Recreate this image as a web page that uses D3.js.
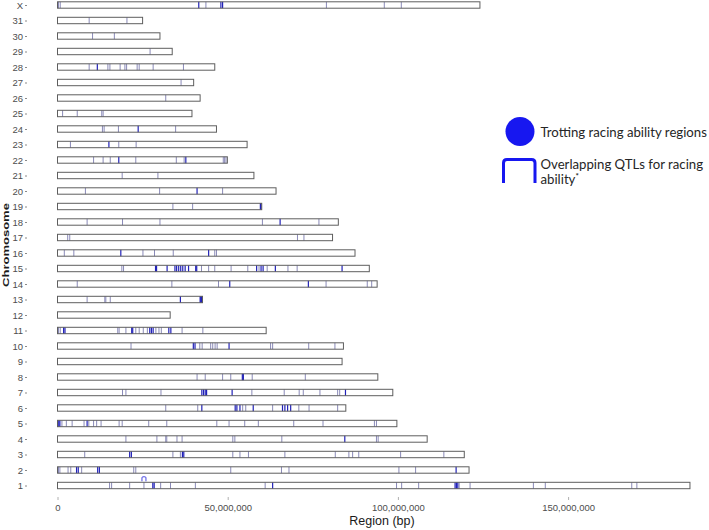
<!DOCTYPE html>
<html><head><meta charset="utf-8">
<script src="https://cdn.jsdelivr.net/npm/d3@7"></script>
<style>
html,body{margin:0;padding:0;background:#fff;}
svg{display:block;}
</style>
</head><body>
<svg id="chart" width="709" height="530"></svg>
<script>
// ---------------- DATA ----------------
const chromosomes = ["1","2","3","4","5","6","7","8","9","10","11","12","13","14","15","16","17","18","19","20","21","22","23","24","25","26","27","28","29","30","31","X"];
// chromosome lengths in Mb
const lengthsMb = [185.8,120.9,119.5,108.6,99.7,84.7,98.5,94.1,83.6,84.0,61.3,33.1,42.6,93.9,91.6,87.4,80.8,82.5,60.0,64.2,57.7,49.9,55.7,46.7,39.5,41.9,40.0,46.2,33.7,30.1,25.0,124.1];
// region positions (Mb), faint marks, per chromosome (same order)
const lightMarks = [
  [15.3,15.9,21.2,25.4,30.3,33.2,40.5,61.0,99.6,101.1,106.1,118.0,121.2,139.8,143.3,168.7,170.2],
  [0.3,0.7,3.1,3.9,7.1,22.4,23.0,50.9,65.8,68.0,100.3,105.2],
  [8.0,33.9,36.1,51.5,53.6,56.1,66.8,81.6,85.6,86.7,88.5,100.8,113.5],
  [20.1,29.2,31.8,32.1,35.1,36.6,51.5,52.1,65.9,93.7,94.2],
  [1.3,2.6,4.3,7.8,9.2,10.6,11.5,12.8,18.1,19.0,26.8,32.1,46.8,50.4,55.0,59.0,69.4,78.0,93.1,93.7],
  [31.8,41.2,54.4,55.3,63.2,70.9,73.9,82.3],
  [19.1,20.1,30.4,57.1,66.6,71.0,72.2,77.1,82.3,82.9],
  [41.0,43.4,48.5,50.9,57.2,72.8],
  [],
  [21.6,41.8,42.5,45.0,45.6,46.3,46.9,62.6,63.2,73.8,81.5],
  [0.3,0.8,17.7,18.1,20.1,23.0,24.0,25.2,26.4,28.9,29.8,30.5,36.6,42.7],
  [],
  [8.7,13.9,14.2,15.5],
  [5.8,33.6,47.3,78.9,91.0,92.3],
  [18.9,19.4,42.3,44.4,46.2,51.0,55.9,59.2,61.6,67.7,70.4],
  [2.0,4.8,25.1,28.5,34.0,46.2,46.7],
  [3.0,3.6,70.5,72.4],
  [8.7,19.1,30.1,60.2,76.8],
  [33.9,39.7],
  [8.2,30.0,48.5],
  [19.0,29.5],
  [10.6,13.4,15.5,23.0,34.9,37.2,48.7,49.1,49.5],
  [3.8,18.0,23.1],
  [13.2,13.7,17.9,34.7],
  [1.5,5.8,13.0,13.4],
  [31.8],
  [36.3],
  [9.3,14.8,15.4,18.4,19.8,20.3,23.4,24.0,28.1,37.0],
  [27.2],
  [10.3,16.7],
  [9.3,20.4],
  [0.3,0.8,43.6,79.0,96.0,101.0]
];
// trotting racing ability regions, strong (blue) marks (Mb)
const blueMarks = [
  [28.0,28.4,63.2,116.8,117.2,117.6],
  [5.6,6.1,11.8,12.3,117.1],
  [21.2,21.7,36.7,37.1],
  [84.4],
  [0.1,0.4,0.7,8.7],
  [42.4,52.2,52.7,53.6,57.5,66.1,66.8,67.6,68.5],
  [42.4,42.9,43.4,43.8,51.3,84.6],
  [54.3,54.6],
  [],
  [39.9,40.4,50.4],
  [1.8,2.2,21.8,22.1,27.1,27.6,28.1,32.7,33.3],
  [],
  [36.1,41.9,42.1,42.3,42.5],
  [50.6,73.7],
  [28.8,29.1,32.2,34.5,35.0,35.6,36.2,36.8,37.5,38.5,40.6,40.9,58.5,59.8,60.4,64.0,83.6],
  [18.6,44.4],
  [],
  [65.4],
  [59.6,59.8],
  [41.0],
  [],
  [18.0,37.7],
  [15.1],
  [23.7],
  [],[],[],
  [11.7],
  [],[],[],
  [41.5,48.0,48.5]
];
// overlapping QTLs for racing ability
const qtlChrom = ["1"];
const qtlPosMb = [25.4];
const xTicks = [0, 50000000, 100000000, 150000000];
const legendLabels = ["Trotting racing ability regions", "Overlapping QTLs for racing", "ability"];

// ---------------- CHART ----------------
const svg = d3.select("#chart");
const x = d3.scaleLinear().domain([0, 150000000]).range([57.5, 568.1]);
const y = d3.scalePoint().domain(chromosomes.slice().reverse()).range([5, 485.5]);
const barH = 6.4;
const lightCol = "#8a8ab8", blueCol = "#2222b8", outlineCol = "#5e5e5e";

// marks
const g = svg.append("g");
chromosomes.forEach((c, i) => {
  const cy = y(c);
  g.append("rect")
    .attr("x", x(0)).attr("y", cy - barH/2)
    .attr("width", x(lengthsMb[i]*1e6) - x(0)).attr("height", barH)
    .attr("fill", "#fff");
  g.selectAll(null).data(lightMarks[i]).enter().append("line")
    .attr("x1", d => x(d*1e6)).attr("x2", d => x(d*1e6))
    .attr("y1", cy - barH/2).attr("y2", cy + barH/2)
    .attr("stroke", lightCol).attr("stroke-width", 1);
  g.selectAll(null).data(blueMarks[i]).enter().append("line")
    .attr("x1", d => x(d*1e6)).attr("x2", d => x(d*1e6))
    .attr("y1", cy - barH/2).attr("y2", cy + barH/2)
    .attr("stroke", blueCol).attr("stroke-width", 1.2);
  g.append("rect")
    .attr("x", x(0)).attr("y", cy - barH/2)
    .attr("width", x(lengthsMb[i]*1e6) - x(0)).attr("height", barH)
    .attr("fill", "none").attr("stroke", outlineCol).attr("stroke-width", 1);
});

// QTL brackets
qtlChrom.forEach((c, i) => {
  const cx = x(qtlPosMb[i]*1e6), top = y(c) - barH/2 - 5.5;
  svg.append("path")
    .attr("d", `M${cx-2},${top+4.5} L${cx-2},${top+1} Q${cx-2},${top} ${cx-1},${top} L${cx+1},${top} Q${cx+2},${top} ${cx+2},${top+1} L${cx+2},${top+4.5}`)
    .attr("fill", "none").attr("stroke", "#3333dd").attr("stroke-width", 0.9);
});

// axes
const xAxis = svg.append("g").attr("transform", "translate(0,497)")
  .call(d3.axisBottom(x).tickValues(xTicks).tickFormat(d3.format(",")).tickSize(3).tickPadding(4));
xAxis.select(".domain").remove();
xAxis.selectAll("line").attr("stroke", "#b0b0b0");
xAxis.selectAll("text").attr("fill", "#4d4d4d")
  .style("font-family", "'Liberation Sans Narrow', 'Arial Narrow', sans-serif").style("font-size", "9.5px");

const yAxis = svg.append("g").attr("transform", "translate(27,0)")
  .call(d3.axisLeft(y).tickSize(2).tickPadding(2));
yAxis.select(".domain").remove();
yAxis.selectAll("line").attr("stroke", "#8a8a8a");
yAxis.selectAll("text").attr("fill", "#4d4d4d")
  .style("font-family", "'Liberation Sans Narrow', 'Arial Narrow', sans-serif").style("font-size", "9.5px");

svg.append("text").attr("x", 382).attr("y", 525).attr("text-anchor", "middle")
  .style("font-family", "'Liberation Sans', Arial, sans-serif").style("font-size", "12.5px").attr("fill", "#1a1a1a")
  .text("Region (bp)");
svg.append("text").attr("transform", "translate(8.5,245) scale(0.75,1) rotate(-90)").attr("text-anchor", "middle")
  .style("font-family", "'Liberation Sans', Arial, sans-serif").style("font-weight", "bold").style("font-size", "13px").attr("fill", "#1a1a1a")
  .text("Chromosome");

// legend
const legendCol = "#1717f0";
const lg = svg.append("g");
lg.append("circle").attr("cx", 520).attr("cy", 131.5).attr("r", 14.5).attr("fill", legendCol);
lg.append("path")
  .attr("d", "M503.5,183 L503.5,163 Q503.5,159.5 507,159.5 L531.5,159.5 Q535,159.5 535,163 L535,183")
  .attr("fill", "none").attr("stroke", legendCol).attr("stroke-width", 3);
const lf = "Lato, 'Open Sans', sans-serif";
const t1 = lg.append("text").attr("x", 540.5).attr("y", 136.5)
  .style("font-family", lf).style("font-size", "14px").attr("fill", "#262626").text(legendLabels[0]);
// fit font size to reference width
const w1 = t1.node().getComputedTextLength();
const fs = 14 * 166.5 / w1;
t1.style("font-size", fs + "px");
lg.append("text").attr("x", 540.5).attr("y", 169)
  .style("font-family", lf).style("font-size", fs + "px").attr("fill", "#262626").text(legendLabels[1]);
const t3 = lg.append("text").attr("x", 540.5).attr("y", 183.5)
  .style("font-family", lf).style("font-size", fs + "px").attr("fill", "#262626");
t3.append("tspan").text(legendLabels[2]);
t3.append("tspan").attr("dy", -5).style("font-size", "8px").style("font-weight", "bold").text("*");
</script>
</body></html>
